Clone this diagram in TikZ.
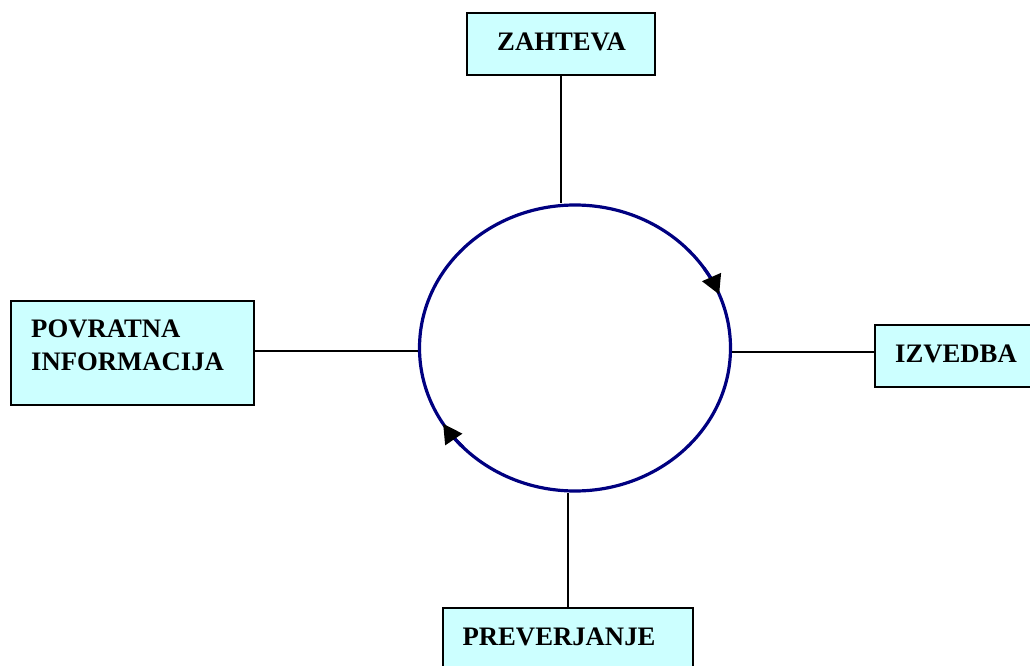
\documentclass[tikz,border=0pt]{standalone}
\usepackage{fontspec}
\setmainfont{Liberation Serif}
\usetikzlibrary{shapes.geometric,arrows.meta}
\definecolor{boxfill}{HTML}{CCFFFF}
\definecolor{cyclecol}{HTML}{000080}

\begin{document}
\begin{tikzpicture}[x=1pt,y=-1pt,
  stagebox/.style={rectangle, draw=black, line width=1.8pt, fill=boxfill, inner sep=0pt},
  stagelabel/.style={font=\fontsize{26.7}{33}\selectfont\bfseries, inner sep=0pt},
  link/.style={draw=black, line width=1.3pt},
  cycleline/.style={draw=cyclecol, line width=3.2pt},
  cyclearrow/.style={cycleline, -{Triangle[length=19pt,width=20pt,color=black]}}]

\useasboundingbox (0,0) rectangle (1030,666);

% the four stages
\node[stagebox, minimum width=188pt, minimum height=62pt] (zahteva) at (561,44) {};
\node[stagebox, minimum width=243pt, minimum height=104pt] (povratna) at (132.5,353) {};
\node[stagebox, minimum width=157pt, minimum height=62pt] (izvedba) at (953.5,356) {};
\node[stagebox, minimum width=250pt, minimum height=72pt] (preverjanje) at (568,644) {};

\node[stagelabel, anchor=base] (tzahteva) at (561.5,51) {ZAHTEVA};
\node[stagelabel, anchor=base west] (tpovratna) at (31,337) {POVRATNA};
\node[stagelabel, anchor=base west] (tinformacija) at (31,370) {INFORMACIJA};
\node[stagelabel, anchor=base] (tizvedba) at (956,362) {IZVEDBA};
\node[stagelabel, anchor=base] (tpreverjanje) at (559,645) {PREVERJANJE};

% the cycle
\node[ellipse, cycleline, minimum width=311pt, minimum height=286pt, inner sep=0pt] (cycle) at (575,348) {};

% direction of the cycle
\draw[cyclearrow] (cycle.center) ++(-34:155.5 and 143)
  arc[start angle=-34, end angle=-22, x radius=155.5, y radius=143];
\draw[cyclearrow] (cycle.center) ++(136:155.5 and 143)
  arc[start angle=136, end angle=148, x radius=155.5, y radius=143];

% connectors
\draw[link] (zahteva.south) -- (zahteva.south |- cycle.north);
\draw[link] (preverjanje.north) -- (preverjanje.north |- cycle.south);
\draw[link] (povratna.east |- 0,351) -- (cycle.west |- 0,351);
\draw[link] (cycle.east |- 0,352) -- (izvedba.west |- 0,352);
\end{tikzpicture}
\end{document}
